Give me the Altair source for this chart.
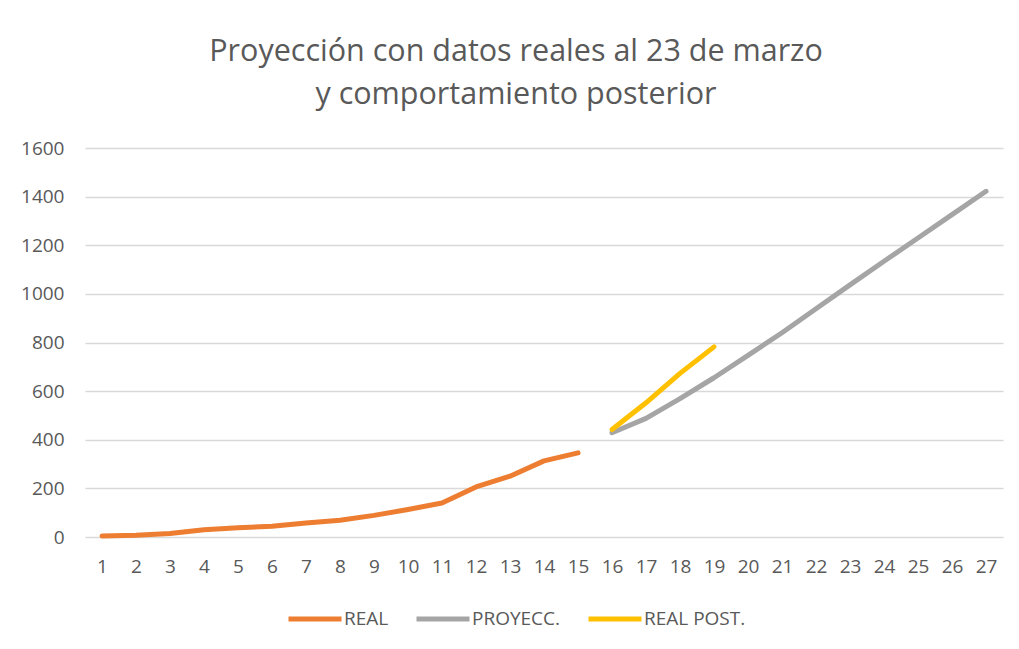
import altair as alt
import pandas as pd

# Data
real_days = list(range(1, 16))
real_vals = [4, 7, 14, 30, 38, 44, 58, 69, 89, 113, 140, 206, 250, 313, 346]

proy_days = list(range(16, 28))
proy_vals = [429, 488, 569, 655, 747, 840, 939, 1037, 1134, 1230, 1326, 1422]

post_days = [16, 17, 18, 19]
post_vals = [442, 552, 673, 782]

series_names = ["REAL", "PROYECC.", "REAL POST."]
series_colors = ["#ED7D31", "#A5A5A5", "#FFC000"]
x_labels = [str(d) for d in range(1, 28)]

rows = []
for d, v in zip(real_days, real_vals):
    rows.append({"dia": str(d), "valor": v, "serie": "REAL"})
for d, v in zip(proy_days, proy_vals):
    rows.append({"dia": str(d), "valor": v, "serie": "PROYECC."})
for d, v in zip(post_days, post_vals):
    rows.append({"dia": str(d), "valor": v, "serie": "REAL POST."})
df = pd.DataFrame(rows)

FONT = "Open Sans"
GRAY_TXT = "#595959"

chart = alt.Chart(df).mark_line(strokeWidth=5, strokeCap="round", strokeJoin="round").encode(
    x=alt.X("dia:O", sort=x_labels, scale=alt.Scale(type="point", padding=0.5, domain=x_labels),
            axis=alt.Axis(title=None, labelAngle=0, ticks=False, domain=False, grid=False,
                          labelFont=FONT, labelFontSize=19, labelColor=GRAY_TXT, labelPadding=20)),
    y=alt.Y("valor:Q", scale=alt.Scale(domain=[0, 1600], nice=False),
            axis=alt.Axis(title=None, values=list(range(0, 1601, 200)), format="d", ticks=False,
                          domain=False, grid=True, gridColor="#D9D9D9", gridWidth=1.5,
                          labelFont=FONT, labelFontSize=19, labelColor=GRAY_TXT, labelPadding=21)),
    color=alt.Color("serie:N", scale=alt.Scale(domain=series_names, range=series_colors),
                    legend=alt.Legend(title=None, orient="none", direction="horizontal",
                                      legendX=201, legendY=442,
                                      symbolType="stroke", symbolSize=2809, symbolStrokeWidth=5,
                                      labelFont=FONT, labelFontSize=19, labelColor=GRAY_TXT,
                                      labelOffset=0, columnPadding=17)),
    detail="serie:N",
).properties(
    width=918,
    height=389,
    title=alt.TitleParams(
        text=["Proyección con datos reales al 23 de marzo", "y comportamiento posterior"],
        font=FONT, fontSize=30.5, fontWeight="normal", color=GRAY_TXT,
        lineHeight=43, anchor="middle", baseline="alphabetic", dx=-28, offset=5,
    ),
    autosize=alt.AutoSizeParams(type="none"),
    padding={"left": 77, "top": 140, "right": 8, "bottom": 110},
).configure_view(stroke=None)

chart.save("out.html", embed_options={"renderer": "svg", "actions": False})
